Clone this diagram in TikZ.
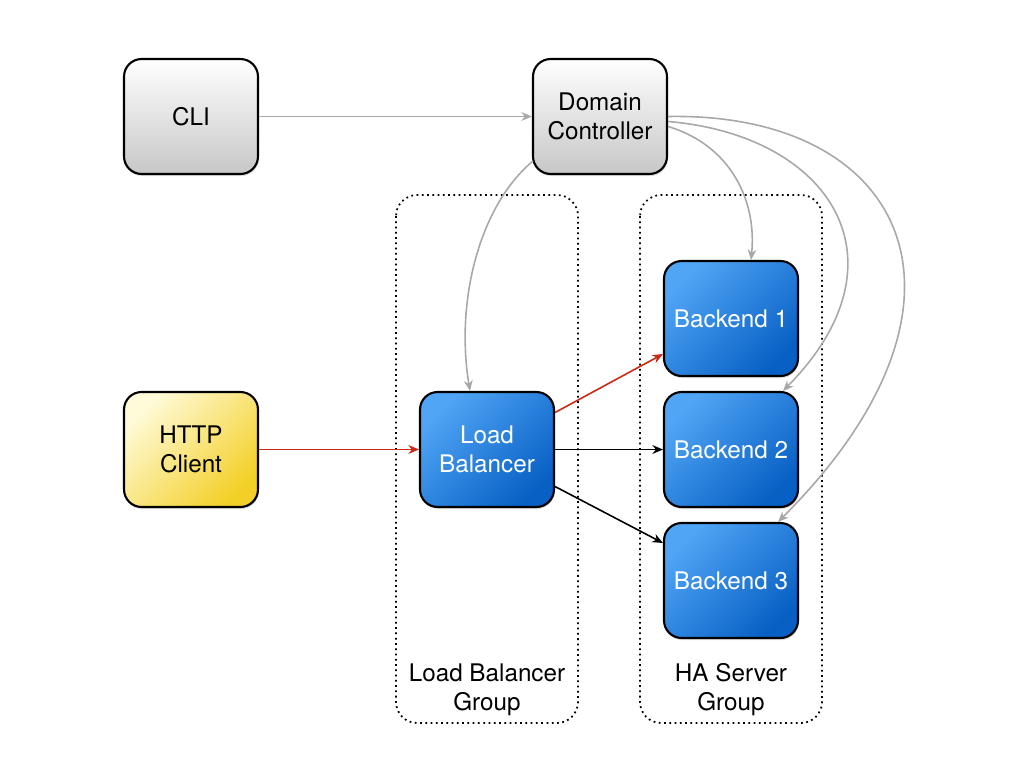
\documentclass[tikz,border=0pt]{standalone}
\usepackage{fontspec}
\setmainfont{TeX Gyre Heros}
\usetikzlibrary{arrows.meta,shadows}
\definecolor{grayline}{HTML}{A8A8A8}
\definecolor{redline}{HTML}{CC2A10}
\tikzset{
  box/.style={draw=black, line width=1.2pt, rounded corners=10pt,
    minimum width=2.68cm, minimum height=2.3cm, align=center,
    font=\fontsize{13.8}{16.5}\selectfont,
    drop shadow={shadow xshift=0.5pt, shadow yshift=-1.2pt, opacity=0.25}},
  graybox/.style={box, top color=white, bottom color=black!22, shading angle=0},
  bluebox/.style={box, text=white,
    left color={rgb,255:red,80;green,165;blue,245}, right color={rgb,255:red,8;green,96;blue,196}, shading angle=45},
  yellowbox/.style={box, left color={rgb,255:red,255;green,250;blue,215}, right color={rgb,255:red,243;green,208;blue,40}, shading angle=45},
  groupbox/.style={draw=black, line width=1pt, dotted, rounded corners=12pt},
  glabel/.style={align=center, font=\fontsize{13.8}{16.5}\selectfont},
  tip/.style={-{Stealth[length=6pt,width=5pt]}},
  garrow/.style={tip, draw=grayline, line width=0.9pt},
  rarrow/.style={tip, draw=redline, line width=0.9pt},
  karrow/.style={tip, draw=black, line width=0.9pt},
}
\begin{document}
\begin{tikzpicture}[x=0.02cm, y=-0.02cm]
\useasboundingbox (0,0) rectangle (1024,768);
\fill[white] (0,0) rectangle (1024,768);
% groups
\draw[groupbox] (396,195) rectangle (578,723);
\draw[groupbox] (640,195) rectangle (822,723);
\node[glabel] (lbg) at (487,690) {Load Balancer\\Group};
\node[glabel] (hag) at (731,690) {HA Server\\Group};
% nodes
\node[graybox] (cli) at (191,116.5) {CLI};
\node[graybox] (dc) at (600,116.5) {Domain\\Controller};
\node[yellowbox] (http) at (191,449.5) {HTTP\\Client};
\node[bluebox] (lb) at (487,449.5) {Load\\Balancer};
\node[bluebox] (b1) at (731,318.5) {Backend 1};
\node[bluebox] (b2) at (731,449.5) {Backend 2};
\node[bluebox] (b3) at (731,580.5) {Backend 3};
% edges
\draw[garrow] (cli.east) -- (dc.west);
\draw[garrow] (dc.south west) ++(1,-14) coordinate (s0) .. controls (480,205) and (455,300) .. (lb.north -| 470,0);
\draw[garrow] (dc.east) ++(0,10) coordinate (s1) .. controls (730,145) and (757,200) .. (b1.north -| 751,0);
\draw[garrow] (dc.east) ++(0,5) coordinate (s2) .. controls (830,135) and (912,260) .. (b2.north -| 783,0);
\draw[garrow] (dc.east) coordinate (s3) .. controls (905,112) and (1000,300) .. (b3.north -| 778,0);
\draw[rarrow] (http.east) -- (lb.west);
\draw[rarrow] (lb.east) ++(0,-37) coordinate (r0) -- (b1.west |- 0,354);
\draw[karrow] (lb.east) -- (b2.west);
\draw[karrow] (lb.east) ++(0,37) coordinate (k0) -- (b3.west |- 0,543);
\end{tikzpicture}
\end{document}
